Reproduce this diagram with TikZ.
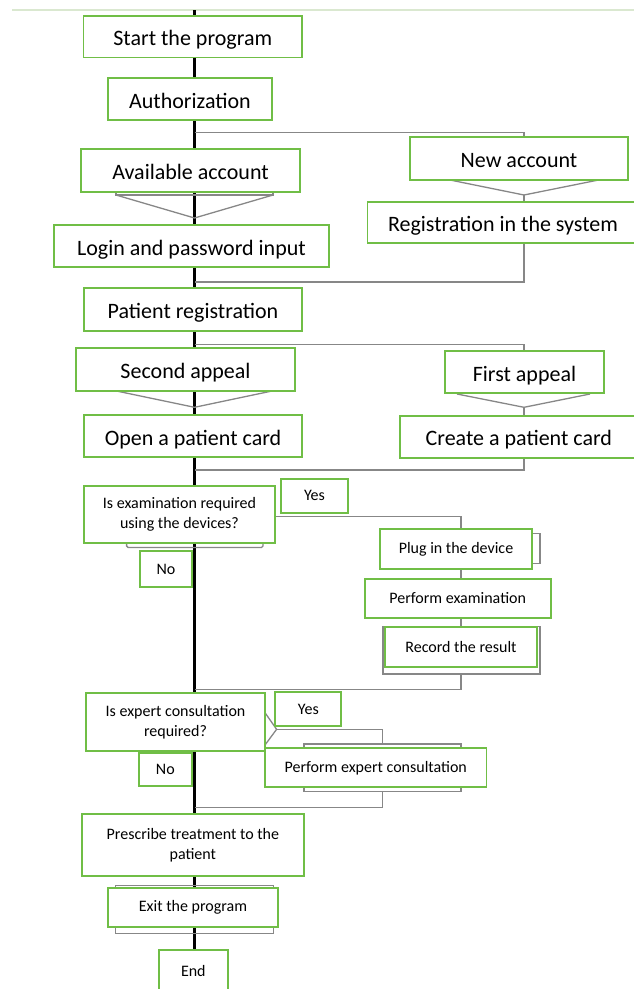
\documentclass[tikz,border=0pt]{standalone}
\usepackage{fontspec}
\setmainfont{Carlito}
\usetikzlibrary{backgrounds}

\definecolor{boxgreen}{RGB}{112,190,70}
\definecolor{linkgray}{RGB}{135,135,135}
\definecolor{rulegreen}{RGB}{218,232,208}

\tikzset{
  basebox/.style={draw=boxgreen, line width=1.8pt, fill=white, inner sep=0pt, align=center},
  stepbox/.style={basebox, text height=18pt, text depth=0pt, font=\fontsize{22}{26}\selectfont},
  smallbox/.style={basebox, font=\fontsize{16}{20}\selectfont},
  backbox/.style={draw=linkgray, line width=1.3pt, inner sep=0pt},
  link/.style={draw=linkgray, line width=1.3pt},
  trunk/.style={draw=black, line width=2.4pt}
}

\begin{document}
\begin{tikzpicture}[x=1pt,y=-1pt]
  \useasboundingbox (0,0) rectangle (634,989);

  % big steps
  \foreach \nm/\cx/\cy/\w/\h/\txt in {
    start/192.75/36.75/218.5/41.5/Start the program,
    auth/190/99/164/42/Authorization,
    avail/190.5/170.5/219/43/Available account,
    login/191.5/246/275/42/Login and password input,
    newacc/519/158.5/218/43/New account,
    regsys/503/222.5/271/41/Registration in the system,
    patreg/193/309.5/218/43/Patient registration,
    second/185.5/369.5/219/43/Second appeal,
    open/193/436/218/42/Open a patient card,
    first/524.5/372/159/42/First appeal,
    create/518.8/436.7/237.6/42/Create a patient card} {
      \node[stepbox, minimum width=\w pt, minimum height=\h pt] (\nm) at (\cx,\cy) {\txt};
  }

  % small steps
  \foreach \nm/\cx/\cy/\w/\h/\txt in {
    q1/179.5/514.5/191/57/Is examination required\\using the devices?,
    yes1/314.5/495.6/67/34/Yes,
    no1/166/569/52/36/No,
    plug/456/549/152/40/Plug in the device,
    perf/457.7/598.2/186/39/Perform examination,
    record/461/647/152/39.4/Record the result,
    q2/175.5/722.3/179/58/Is expert consultation\\required?,
    yes2/308.35/709.15/66/34/Yes,
    no2/165.35/769.2/53/33/No,
    expert/375.75/767.8/221.5/39/Perform expert consultation,
    prescribe/192.85/845.15/221.7/61.7/Prescribe treatment to the\\patient,
    exit/193/907.5/170/39.6/Exit the program,
    end/193.35/971/68.7/42/End} {
      \node[smallbox, minimum width=\w pt, minimum height=\h pt] (\nm) at (\cx,\cy) {\txt};
  }

  \coordinate (trunktop) at (194.5,10);
  \coordinate (colA) at (524,0);
  \coordinate (colC) at (461,0);
  \coordinate (colD) at (382.5,0);
  \coordinate (jA) at (194.5,132.7);
  \coordinate (jA2) at (194.5,282);
  \coordinate (jB) at (194.5,344.3);
  \coordinate (jB2) at (194.5,470);
  \coordinate (jC2) at (194.5,689.3);
  \coordinate (jD2) at (194.5,807.3);

  \begin{scope}[on background layer]
    \draw[rulegreen, line width=1.5pt] (12,10) -- (634,10);
    \draw[trunk] (trunktop) -- (end.north -| trunktop);

    \node[backbox, minimum width=157pt, minimum height=47.3pt] (recordback) at (461.5,650.35) {};
    \node[backbox, minimum width=157pt, minimum height=47.7pt] (expertback) at (382.5,767.85) {};
    \node[backbox, minimum width=157.8pt, minimum height=47.6pt] (exitback) at (194.5,909.5) {};

    % account branch
    \draw[black!85, line width=1pt] (116,148.3) -- (273,148.3);
    \draw[link] (116,192) -- (116,195) -- (273,195) -- (273,192);
    \draw[link] (116,195) -- (194.5,218) -- (273,195);
    \draw[link] (jA) -| (newacc.north -| colA);
    \draw[link] (450,180) -- (524,195) -- (598.5,180);
    \draw[link] (524,195) -- (regsys.north -| colA);
    \draw[link] (regsys.south -| colA) |- (jA2);

    % appeal branch
    \draw[link] (116.5,391) -- (194.5,407.3) -- (272,391);
    \draw[link] (jB) -| (first.north -| colA);
    \draw[link] (457,394) -- (524,407.3) -- (590,394);
    \draw[link] (524,407.3) -- (create.north -| colA);
    \draw[link] (create.south -| colA) |- (jB2);

    % examination branch
    \draw[link, rounded corners=1.5pt] (126.6,543) -- (126.6,547.5) -- (263,547.5) -- (263,543);
    \draw[link] ([yshift=-2.2pt]q1.east) -| (plug.north -| colC);
    \draw[link] (532,533.3) -- (540,533.3) -- (540,563.3) -- (532,563.3);
    \draw[link] (plug.south -| colC) -- (perf.north -| colC);
    \draw[link] (perf.south -| colC) -- (record.north -| colC);
    \draw[link] (recordback.south -| colC) |- (jC2);

    % consultation branch
    \draw[link] (265,712.7) -- (276.6,729.3) -- (265,745);
    \draw[link] (276.6,729.3) -| (expertback.north -| colD);
    \draw[link] (expertback.south -| colD) |- (jD2);
  \end{scope}
\end{tikzpicture}
\end{document}
